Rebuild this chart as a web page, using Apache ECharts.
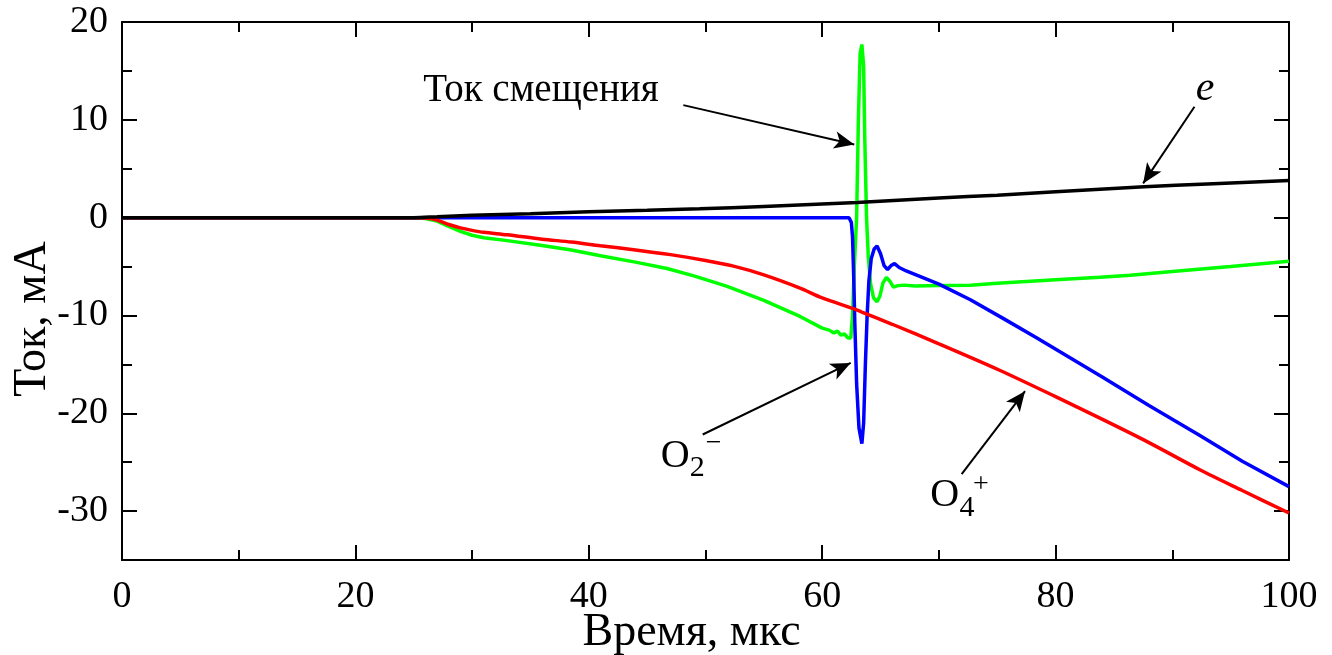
<!DOCTYPE html>
<html>
<head>
<meta charset="utf-8">
<script src="https://cdn.jsdelivr.net/npm/echarts@6/dist/echarts.min.js"></script>
<style>
html,body{margin:0;padding:0;background:#fff;}
#chart{width:1332px;height:655px;}
</style>
</head>
<body>
<div id="chart"></div>
<script>
// ---- data ----
const xTickLabels = [0, 20, 40, 60, 80, 100];
const yTickLabels = [-30, -20, -10, 0, 10, 20];
const yMinorTicks = [-25, -15, -5, 5, 15];

const blackX = [0, 25, 27, 30, 35, 40, 45, 49.5, 55, 63, 70, 75, 80, 87.6, 93, 100];
const blackY = [0, 0, 0.1, 0.25, 0.4, 0.6, 0.75, 0.9, 1.15, 1.55, 2.0, 2.3, 2.65, 3.15, 3.45, 3.8];

const greenX = [0, 25, 26, 27, 28, 29, 30, 31, 33, 36, 38.5, 41, 44, 46.7, 49, 51.8, 55, 58.1, 60, 60.6, 61.0, 61.3, 61.6, 61.9, 62.2, 62.45, 62.6, 62.75, 62.95, 63.1, 63.25, 63.4, 63.55, 63.65, 63.8, 63.95, 64.15, 64.4, 64.7, 64.95, 65.2, 65.5, 65.8, 66.1, 66.5, 67, 68, 70, 72.7, 75, 80, 83.8, 86.4, 90, 95, 100];
const greenY = [0, 0, -0.1, -0.35, -0.9, -1.4, -1.8, -2.05, -2.35, -2.85, -3.3, -3.9, -4.55, -5.2, -5.95, -7.0, -8.45, -10.1, -11.3, -11.5, -11.8, -11.6, -12.0, -11.9, -12.3, -12.3, -10, -5, 0, 10, 16.8, 17.7, 15.5, 8, 0, -4, -6.8, -8.2, -8.6, -8.0, -6.7, -6.1, -6.5, -7.1, -6.95, -6.9, -7.0, -6.95, -6.9, -6.72, -6.34, -6.1, -5.9, -5.5, -5.0, -4.45];

const blueX = [0, 62.3, 62.4, 62.5, 62.6, 62.7, 62.8, 62.95, 63.15, 63.4, 63.55, 63.7, 63.85, 64.0, 64.2, 64.45, 64.7, 65.0, 65.3, 65.6, 65.9, 66.2, 66.6, 67.2, 70, 72.7, 75.5, 78.4, 81.2, 84, 88, 92.4, 96, 100];
const blueY = [0, 0, -0.1, -0.5, -2, -6, -11, -17, -21.5, -23.1, -21, -15, -10, -6.5, -4.2, -3.2, -2.9, -3.7, -4.9, -5.3, -4.9, -4.7, -5.1, -5.45, -6.8, -8.4, -10.3, -12.3, -14.3, -16.3, -19.2, -22.3, -24.9, -27.5];

const redX = [0, 25, 26, 27, 28, 29, 30, 31, 33, 36, 38.5, 41, 44, 47, 50, 52.4, 55, 58.1, 60, 62.8, 63.4, 66, 70, 75.2, 80, 83.8, 88, 92.4, 96, 100];
const redY = [0, 0, -0.05, -0.25, -0.7, -1.05, -1.3, -1.5, -1.75, -2.2, -2.5, -2.88, -3.3, -3.78, -4.38, -4.96, -5.85, -7.2, -8.2, -9.35, -9.65, -10.9, -12.9, -15.6, -18.3, -20.5, -23.0, -25.8, -27.9, -30.2];

// annotations (data coordinates)
const arrowStarts = [[48.1, 11.5], [91.9, 11.33], [49.76, -22.17], [71.95, -26.23]];
const arrowEnds   = [[62.75, 7.48], [87.5, 3.5], [62.44, -14.85], [77.38, -17.74]];
const labelTexts  = ['Ток смещения', 'e', 'O', '2', '−', 'O', '4', '+'];
const labelPos    = [[35.9, 13.0], [92.8, 13.2], [47.4, -24.4], [49.3, -25.6], [50.7, -23.1], [70.5, -28.4], [72.4, -29.65], [73.6, -27.25]];
const labelKind   = ['main', 'ital', 'big', 'sub', 'sup', 'big', 'sub', 'sup'];

// ---- build ----
const FONT = '"Liberation Serif", "Times New Roman", serif';
const pairs = (xs, ys) => xs.map((x, i) => [x, ys[i]]);

const kindStyle = {
  main: {fontSize: 39},
  ital: {fontSize: 42, fontStyle: 'italic'},
  big:  {fontSize: 40},
  sub:  {fontSize: 30},
  sup:  {fontSize: 28}
};

const chart = echarts.init(document.getElementById('chart'), null, {renderer: 'canvas'});

const axisLineStyle = {show: true, onZero: false, lineStyle: {color: '#000', width: 2}};
const xBase = {
  type: 'value', min: 0, max: 100, interval: 20,
  axisLine: axisLineStyle,
  axisTick: {show: true, inside: true, length: 15, lineStyle: {color: '#000', width: 2}},
  minorTick: {show: true, splitNumber: 2, length: 10, lineStyle: {color: '#000', width: 2}},
  splitLine: {show: false}, minorSplitLine: {show: false}
};
const yBase = {
  type: 'value', min: -35, max: 20,
  splitLine: {show: false}
};

const option = {
  animation: false,
  backgroundColor: '#fff',
  grid: {left: 122, right: 43, top: 22, bottom: 95, containLabel: false, outerBoundsMode: 'none'},
  xAxis: [
    Object.assign({}, xBase, {
      position: 'bottom',
      axisLabel: {show: true, fontFamily: FONT, fontSize: 38, color: '#000', margin: 18},
      name: 'Время, мкс', nameLocation: 'middle', nameGap: 50, nameMoveOverlap: false,
      nameTextStyle: {fontFamily: FONT, fontSize: 46, color: '#000', padding: [0, 28, 0, 0]}
    }),
    Object.assign({}, xBase, {position: 'top', axisLabel: {show: false}})
  ],
  yAxis: [
    Object.assign({}, yBase, {
      position: 'left',
      axisLine: axisLineStyle,
      axisTick: {show: true, inside: true, length: 15, customValues: yTickLabels, lineStyle: {color: '#000', width: 2}},
      axisLabel: {show: true, customValues: yTickLabels, fontFamily: FONT, fontSize: 38, color: '#000', margin: 14},
      name: 'Ток, мА', nameLocation: 'middle', nameGap: 66, nameRotate: 90, nameMoveOverlap: false,
      nameTextStyle: {fontFamily: FONT, fontSize: 46, color: '#000', padding: [0, 56, 0, 0]}
    }),
    Object.assign({}, yBase, {
      position: 'left',
      axisLine: {show: false, onZero: false},
      axisTick: {show: true, inside: true, length: 10, customValues: yMinorTicks, lineStyle: {color: '#000', width: 2}},
      axisLabel: {show: false}
    }),
    Object.assign({}, yBase, {
      position: 'right',
      axisLine: axisLineStyle,
      axisTick: {show: true, inside: true, length: 15, customValues: yTickLabels, lineStyle: {color: '#000', width: 2}},
      axisLabel: {show: false}
    }),
    Object.assign({}, yBase, {
      position: 'right',
      axisLine: {show: false, onZero: false},
      axisTick: {show: true, inside: true, length: 10, customValues: yMinorTicks, lineStyle: {color: '#000', width: 2}},
      axisLabel: {show: false}
    })
  ],
  series: [
    {name: 'green', type: 'line', data: pairs(greenX, greenY), showSymbol: false, symbol: 'none',
      lineStyle: {color: '#00ff00', width: 3.5}, z: 2},
    {name: 'blue', type: 'line', data: pairs(blueX, blueY), showSymbol: false, symbol: 'none',
      lineStyle: {color: '#0000ff', width: 3.5}, z: 3},
    {name: 'red', type: 'line', data: pairs(redX, redY), showSymbol: false, symbol: 'none', smooth: 0.3,
      lineStyle: {color: '#ff0000', width: 3.5}, z: 4},
    {name: 'black', type: 'line', data: pairs(blackX, blackY), showSymbol: false, symbol: 'none', smooth: 0.3,
      lineStyle: {color: '#000000', width: 3.5}, z: 5,
      markLine: {
        silent: true, symbol: ['none', 'arrow'], symbolSize: [13, 20],
        label: {show: false},
        lineStyle: {color: '#000', width: 2, type: 'solid', opacity: 1},
        data: arrowStarts.map((s, i) => [{coord: s}, {coord: arrowEnds[i]}])
      }
    },
    {name: 'labels', type: 'scatter', symbolSize: 0, silent: true, z: 6,
      itemStyle: {opacity: 1},
      data: labelPos.map((p, i) => ({
        value: p,
        label: Object.assign({show: true, position: 'inside', formatter: labelTexts[i],
          fontFamily: FONT, color: '#000', opacity: 1, textBorderWidth: 0}, kindStyle[labelKind[i]])
      }))
    }
  ]
};
chart.setOption(option);
</script>
</body>
</html>
